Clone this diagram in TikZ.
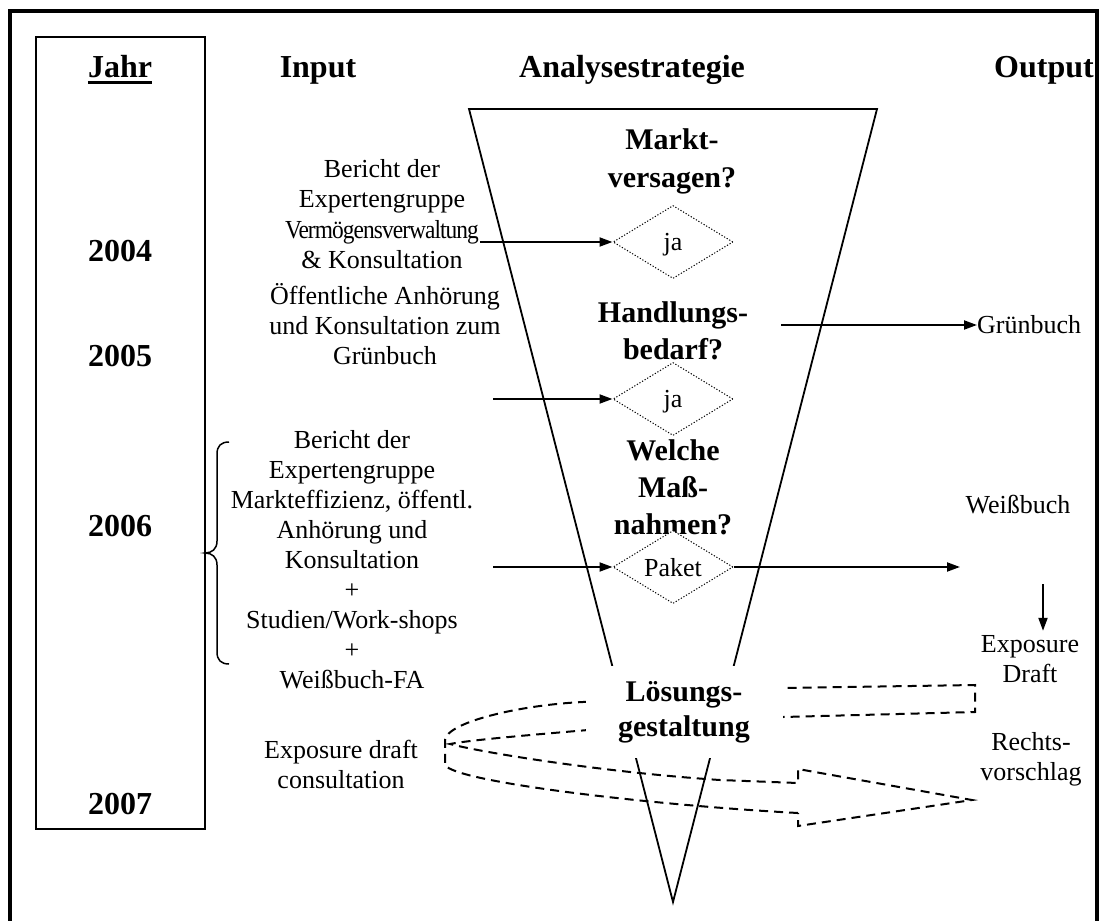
\documentclass[tikz,border=0pt]{standalone}
\usepackage{fontspec}
\setmainfont{Liberation Serif}
\usetikzlibrary{shapes.geometric,arrows.meta}
\newcommand{\ml}[1]{\begin{tabular}[t]{@{}c@{}}#1\end{tabular}}
\begin{document}
\begin{tikzpicture}[x=1pt,y=-1pt,
  txt/.style={font=\fontsize{26}{30}\selectfont, inner sep=0pt, anchor=base},
  hdr/.style={font=\fontsize{32}{38}\selectfont\bfseries, inner sep=0pt, anchor=base},
  fhd/.style={font=\fontsize{30}{37}\selectfont\bfseries, inner sep=0pt, anchor=base},
  arr/.style={line width=2pt, -{Triangle[length=13pt,width=9pt]}},
  dia/.style={diamond, draw, fill=white, line width=1pt, dash pattern=on 1.2pt off 1.8pt,
    minimum width=120pt, minimum height=73pt, inner sep=0pt, aspect=1.6, text depth=0pt,
    font=\fontsize{26}{30}\selectfont},
  ribbon/.style={line width=2pt, dash pattern=on 9pt off 6pt},
  funnel/.style={line width=1.8pt, line join=miter},
  frame/.style={line width=3.4pt},
  yearbox/.style={draw, line width=1.5pt, inner sep=0pt, minimum width=169pt, minimum height=792pt},
  bracestyle/.style={line width=1.5pt}
]
\useasboundingbox (0,0) rectangle (1107,920);

% outer frame
\draw[frame] (10,930) -- (10,11) -- (1097,11) -- (1097,930);

% year column
\node[yearbox] (ybox) at (120.5,433) {};
\node[hdr] (jahr) at (120,78) {Jahr};
\draw[line width=3.5pt] ([yshift=-4.5pt]jahr.base west) -- ([yshift=-4.5pt]jahr.base east);
\node[hdr] (y2004) at (120,261) {2004};
\node[hdr] (y2005) at (120,366) {2005};
\node[hdr] (y2006) at (120,536) {2006};
\node[hdr] (y2007) at (120,814) {2007};

% headers
\node[hdr] (hin) at (318,78) {Input};
\node[hdr] (hana) at (632,78) {Analysestrategie};
\node[hdr] (hout) at (1044,78) {Output};

% funnel
\draw[funnel] (673,902) -- (469,109) -- (877,109) -- cycle;

% dashed ribbon arrow
\draw[ribbon] (798,813) .. controls (650,805) and (455,782) .. (445,765) -- (445,740)
  .. controls (447,722) and (520,705) .. (583,702) -- (784,688) -- (975,685) -- (975,712)
  -- (783,717) -- (588,730) .. controls (530,735) and (470,740) .. (450,744)
  .. controls (480,752) and (600,772) .. (720,780) -- (798,783) -- (798,769)
  -- (972,800) -- (798,826) -- cycle;

% funnel questions
\node[fhd] (q1) at (672,150) {\ml{Markt-\\versagen?}};
\node[fhd] (q2) at (673,322) {\ml{Handlungs-\\bedarf?}};
\begin{scope}
  \clip (540,400) rectangle (800,534);
  \node[fhd] (q3) at (673,460) {\ml{Welche\\Maß-\\nahmen?}};
\end{scope}
\node[fhd, font=\fontsize{30}{35}\selectfont\bfseries, fill=white, inner xsep=0pt, inner ysep=11pt,
  minimum width=197pt] (q4) at (684,701.5) {\ml{Lösungs-\\gestaltung}};

% diamonds
\node[dia] (d1) at (673,242) {ja};
\node[dia] (d2) at (673,399) {ja};
\node[dia] (d3) at (673,567) {Paket};

% input texts
\node[txt] (in1) at (382,178) {\ml{Bericht der\\Expertengruppe\\\scalebox{0.9}[1]{\addfontfeature{LetterSpace=-4}Vermögensverwaltung}\\\& Konsultation}};
\node[txt] (in2) at (385,304) {\ml{Öffentliche Anhörung\\und Konsultation zum\\Grünbuch}};
\node[txt] (in3) at (352,448) {\ml{Bericht der\\Expertengruppe\\Markteffizienz, öffentl.\\Anhörung und\\Konsultation\\+\\Studien/Work-shops\\+\\Weißbuch-FA}};
\node[txt] (in4) at (341,758) {\ml{Exposure draft\\consultation}};

% brace
\draw[bracestyle] (229,442) .. controls (221,442) and (217,446) .. (217,454) -- (217,541)
  .. controls (217,549) and (212,553) .. (205,553) .. controls (212,553) and (217,557) .. (217,565)
  -- (217,652) .. controls (217,660) and (221,664) .. (229,664);

% output texts
\node[txt, anchor=base west] (o1) at (977,333) {Grünbuch};
\node[txt] (o2) at (1018,513) {Weißbuch};
\node[txt] (o3) at (1030,652) {\ml{Exposure\\Draft}};
\node[txt] (o4) at (1031,750) {\ml{Rechts-\\vorschlag}};

% arrows
\coordinate (a1) at (480,242);
\coordinate (a2) at (493,399);
\coordinate (a3) at (493,567);
\coordinate (a4) at (960,567);
\coordinate (a5) at (781,325);
\coordinate (a6) at (1043,584);
\draw[arr] (a1) -- (d1.west);
\draw[arr] (a2) -- (d2.west);
\draw[arr] (a3) -- (d3.west);
\draw[arr] (d3.east) -- (a4);
\draw[arr] (a5) -- (a5 -| o1.west);
\draw[arr] (a6) -- (a6 |- o3.north);
\end{tikzpicture}
\end{document}
